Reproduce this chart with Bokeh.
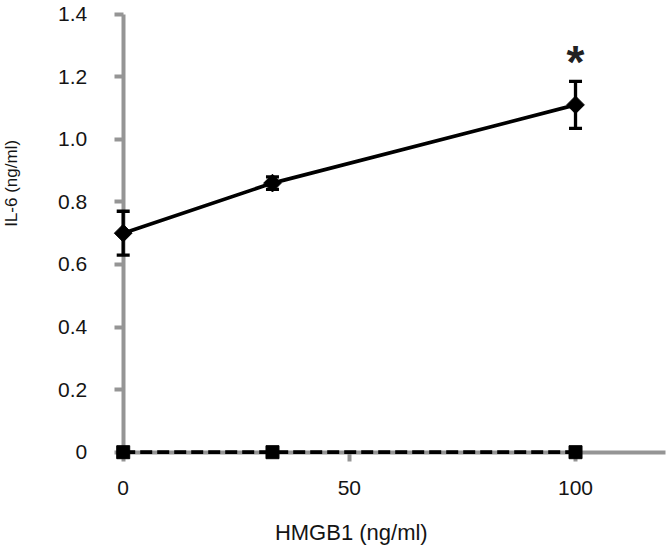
import numpy as np
from bokeh.plotting import figure
from bokeh.models import (ColumnDataSource, Whisker, TeeHead, FixedTicker, Range1d,
                          Label)
from bokeh.core.properties import value
from bokeh.embed import file_html
from bokeh.resources import INLINE

# ---- data ----
hmgb1 = [0, 33, 100]
il6_treated = [0.70, 0.86, 1.11]
il6_err = [0.07, 0.02, 0.075]
il6_control = [0.0, 0.0, 0.0]
sig_marks = ["", "", "*"]
x_ticks = [0, 50, 100]
y_ticks = [0, 0.2, 0.4, 0.6, 0.8, 1.0, 1.2, 1.4]
y_tick_labels = ["0", "0.2", "0.4", "0.6", "0.8", "1.0", "1.2", "1.4"]
x_title = "HMGB1  (ng/ml)"
y_title = "IL-6 (ng/ml)"

FONT = "Liberation Sans"
AXIS_GRAY = "#959595"
TEXT = "#141414"

# the frame covers the whole canvas; axes cross at the origin
p = figure(width=670, height=549, output_backend="svg", toolbar_location=None,
           x_range=Range1d(-27.13, 121.0), y_range=Range1d(-0.311, 1.4436),
           min_border=0, min_border_left=0, min_border_right=0,
           min_border_top=0, min_border_bottom=0)
p.outline_line_color = None
p.xgrid.visible = False
p.ygrid.visible = False

for ax in (p.xaxis[0], p.yaxis[0]):
    ax.fixed_location = 0
    ax.axis_line_color = AXIS_GRAY
    ax.axis_line_width = 4
    ax.major_tick_line_color = AXIS_GRAY
    ax.major_tick_line_width = 4
    ax.major_tick_out = 9
    ax.major_tick_in = 0
    ax.minor_tick_line_color = None
    ax.major_label_text_font = FONT
    ax.major_label_text_font_size = "21px"
    ax.major_label_text_color = TEXT
    ax.level = "underlay"

p.xaxis[0].bounds = (0, 120)
p.yaxis[0].bounds = (0, 1.4)
p.xaxis[0].ticker = FixedTicker(ticks=x_ticks)
p.yaxis[0].ticker = FixedTicker(ticks=y_ticks)
p.yaxis[0].major_label_overrides = {t: l for t, l in zip(y_ticks, y_tick_labels)}
p.xaxis[0].major_label_standoff = 20
p.yaxis[0].major_label_standoff = 27

src = ColumnDataSource(dict(
    x=hmgb1, y=il6_treated, err=il6_err,
    upper=[v + e for v, e in zip(il6_treated, il6_err)],
    lower=[v - e for v, e in zip(il6_treated, il6_err)],
    ctrl=il6_control, mark=sig_marks,
))

# control (dashed, squares)
p.line("x", "ctrl", source=src, line_color="black", line_width=3.7, line_dash="12 5")
p.scatter("x", "ctrl", source=src, marker="square", size=13,
          fill_color="black", line_color="black")

# treated (solid, diamonds) with error bars
p.line("x", "y", source=src, line_color="black", line_width=3.7)
wh = Whisker(base="x", upper="upper", lower="lower", source=src,
             line_color="black", line_width=3.3,
             upper_head=TeeHead(size=13, line_width=3.3, line_color="black"),
             lower_head=TeeHead(size=13, line_width=3.3, line_color="black"))
p.add_layout(wh)
p.scatter("x", "y", source=src, marker="square", angle=np.pi / 4, size=12.5,
          fill_color="black", line_color="black")

# significance star
p.text("x", "upper", text="mark", source=src, text_font=value(FONT),
       text_font_size="46px", text_font_style="bold", text_align="center",
       text_baseline="middle", y_offset=-19, text_color="#222222")

# axis titles
p.add_layout(Label(x=51.1, y=-0.258, text=x_title, text_font=FONT,
                   text_font_size="22px", text_align="center",
                   text_baseline="middle", text_color=TEXT))
p.add_layout(Label(x=-24.6, y=0.859, text=y_title, text_font=FONT,
                   text_font_size="17px", text_align="center", angle=np.pi / 2,
                   text_baseline="middle", text_color=TEXT))

open("out.html", "w").write(file_html(p, INLINE))
